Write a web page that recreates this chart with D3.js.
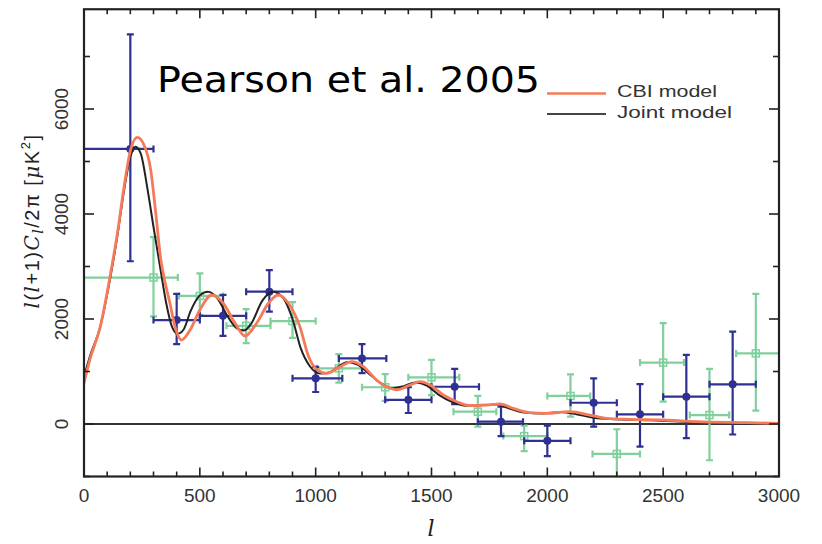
<!DOCTYPE html>
<html>
<head>
<meta charset="utf-8">
<script src="https://cdn.jsdelivr.net/npm/d3@7"></script>
<style>
  body { margin: 0; background: #fff; }
  svg { display: block; }
  .tick-label { font-family: "Liberation Sans", Arial, sans-serif; font-size: 19px; fill: #333; }
</style>
</head>
<body>
<div id="chart"></div>
<script>
// CBI model curve (orange)
const cbiL   = [0, 25, 70, 112, 144, 173, 201, 230, 259, 288, 309, 331, 350, 371, 393, 421, 458, 500, 551, 601, 652, 695, 745, 796, 839, 882, 932, 968, 1004, 1047, 1105, 1156, 1206, 1263, 1321, 1350, 1407, 1450, 1494, 1551, 1609, 1666, 1738, 1796, 1853, 1925, 1997, 2098, 2184, 2256, 2357, 2501, 2645, 2860, 3000]
const cbiV   = [780, 1220, 1850, 2800, 3630, 4520, 5220, 5460, 5315, 4840, 4050, 3150, 2700, 2300, 1850, 1600, 1790, 2170, 2457, 2300, 1920, 1676, 1920, 2300, 2457, 2300, 1854, 1300, 1040, 966, 1092, 1190, 1092, 838, 680, 650, 743, 806, 743, 552, 425, 350, 362, 381, 298, 216, 203, 235, 171, 108, 89, 76, 44, 25, 13]

// Joint model curve (black)
const jointL = [0, 25, 70, 112, 144, 173, 201, 222, 245, 275, 302, 330, 355, 380, 405, 430, 460, 500, 535, 575, 620, 660, 690, 720, 770, 815, 860, 900, 935, 975, 1020, 1060, 1110, 1140, 1180, 1230, 1280, 1330, 1380, 1430, 1480, 1530, 1590, 1650, 1720, 1780, 1840, 1900, 1980, 2060, 2130, 2200, 2300, 2450, 2600, 2800, 3000]
const jointV = [900, 1280, 1850, 2750, 3580, 4450, 5100, 5280, 5150, 4450, 3700, 2950, 2300, 1850, 1720, 1800, 2150, 2450, 2520, 2400, 2050, 1820, 1780, 1900, 2350, 2520, 2400, 2000, 1450, 1100, 960, 980, 1130, 1180, 1130, 960, 780, 680, 720, 790, 730, 560, 420, 350, 360, 370, 290, 220, 200, 230, 180, 120, 90, 70, 45, 25, 12]

// CBI band powers (blue, filled circles)
const blueL   = [200, 400, 600, 800, 1000, 1200, 1400, 1600, 1800, 2000, 2200, 2400, 2600, 2800]
const blueV   = [5240, 1980, 2060, 2520, 870, 1250, 460, 710, 45, -320, 405, 185, 520, 755]
const blueLlo = [-20, 300, 500, 700, 900, 1100, 1300, 1500, 1700, 1900, 2100, 2300, 2500, 2700]
const blueLhi = [300, 500, 700, 900, 1115, 1305, 1500, 1705, 1895, 2100, 2300, 2500, 2700, 2900]
const blueVlo = [3100, 1520, 1680, 2140, 610, 970, 210, 380, -230, -610, -50, -430, -270, -200]
const blueVhi = [7420, 2480, 2460, 2930, 1090, 1520, 700, 1050, 330, -30, 870, 760, 1315, 1760]

// joint band powers (green, open squares)
const greenL   = [300, 500, 700, 900, 1100, 1300, 1500, 1700, 1900, 2100, 2300, 2500, 2700, 2900]
const greenV   = [2790, 2440, 1870, 1960, 1060, 700, 890, 235, -230, 535, -570, 1170, 170, 1345]
const greenLlo = [-20, 410, 615, 805, 1005, 1200, 1400, 1595, 1810, 2000, 2195, 2400, 2615, 2815]
const greenLhi = [405, 600, 805, 1000, 1200, 1400, 1620, 1780, 2000, 2185, 2400, 2590, 2785, 3100]
const greenVlo = [2050, 2080, 1540, 1640, 790, 440, 550, -50, -515, 140, -1100, 425, -690, 255]
const greenVhi = [3560, 2870, 2190, 2320, 1330, 950, 1220, 535, -30, 945, -100, 1920, 1050, 2480]

const xTicks = [0, 500, 1000, 1500, 2000, 2500, 3000]
const yTicks = [0, 2000, 4000, 6000]

const W = 822, H = 544,
      ORANGE = '#f47a5a', BLUE = '#2e3192', GREEN = '#80cf9c'

let svg = d3.select('#chart').append('svg')
      .attr('width', W)
      .attr('height', H),

    x = d3.scaleLinear().domain([0, 3000]).range([84, 779]),
    y = d3.scaleLinear().domain([-1000, 7900]).range([476.5, 9.25]),

    defs = svg.append('defs')

defs.append('clipPath').attr('id', 'plot-clip')
  .append('rect')
    .attr('x', x(0)).attr('y', y(7900))
    .attr('width', x(3000) - x(0)).attr('height', y(-1000) - y(7900))

// zero line
svg.append('line')
  .attr('x1', x(0)).attr('x2', x(3000))
  .attr('y1', y(0)).attr('y2', y(0))
  .attr('stroke', '#333').attr('stroke-width', 1.8)

let plot = svg.append('g').attr('clip-path', 'url(#plot-clip)')

// error bars
function _bars(col, L, V, Llo, Lhi, Vlo, Vhi, square) {
  let g = plot.append('g')
        .attr('stroke', col)
        .attr('fill', 'none')
        .attr('stroke-width', 2.2),
      cap = 3.5,
      pts = g.selectAll('g').data(d3.range(L.length)).join('g')

  pts.append('line')
    .attr('x1', i => x(Llo[i])).attr('x2', i => x(Lhi[i]))
    .attr('y1', i => y(V[i])).attr('y2', i => y(V[i]))
  pts.append('line')
    .attr('x1', i => x(L[i])).attr('x2', i => x(L[i]))
    .attr('y1', i => y(Vlo[i])).attr('y2', i => y(Vhi[i]))
  ;[Llo, Lhi].forEach(A => pts.append('line')
    .attr('x1', i => x(A[i])).attr('x2', i => x(A[i]))
    .attr('y1', i => y(V[i]) - cap).attr('y2', i => y(V[i]) + cap))
  ;[Vlo, Vhi].forEach(A => pts.append('line')
    .attr('x1', i => x(L[i]) - cap).attr('x2', i => x(L[i]) + cap)
    .attr('y1', i => y(A[i])).attr('y2', i => y(A[i])))

  if (square)
    pts.append('rect')
      .attr('x', i => x(L[i]) - 3.5).attr('y', i => y(V[i]) - 3.5)
      .attr('width', 7).attr('height', 7)
      .attr('stroke-width', 1.5)
  else
    pts.append('circle')
      .attr('cx', i => x(L[i])).attr('cy', i => y(V[i]))
      .attr('r', 4)
      .attr('fill', col).attr('stroke', 'none')
}

_bars(GREEN, greenL, greenV, greenLlo, greenLhi, greenVlo, greenVhi, true)
_bars(BLUE, blueL, blueV, blueLlo, blueLhi, blueVlo, blueVhi, false)

// model curves
let λ = d3.line()
  .x(d => x(d[0])).y(d => y(d[1]))
  .curve(d3.curveMonotoneX)

plot.append('path')
  .attr('d', λ(d3.zip(jointL, jointV)))
  .attr('fill', 'none').attr('stroke', '#222').attr('stroke-width', 2)
plot.append('path')
  .attr('d', λ(d3.zip(cbiL, cbiV)))
  .attr('fill', 'none').attr('stroke', ORANGE).attr('stroke-width', 2.8)

// frame + ticks (inward, all four sides)
let ax = svg.append('g').attr('stroke', '#222').attr('stroke-width', 1.6)

d3.range(0, 3001, 100).forEach(v => {
  let len = v % 500 === 0 ? 9 : 5
  ax.append('line').attr('x1', x(v)).attr('x2', x(v)).attr('y1', y(-1000)).attr('y2', y(-1000) - len)
  ax.append('line').attr('x1', x(v)).attr('x2', x(v)).attr('y1', y(7900)).attr('y2', y(7900) + len)
})
d3.range(-1000, 7901, 1000).forEach(v => {
  let len = v % 2000 === 0 ? 10 : 6
  ax.append('line').attr('y1', y(v)).attr('y2', y(v)).attr('x1', x(0)).attr('x2', x(0) + len)
  ax.append('line').attr('y1', y(v)).attr('y2', y(v)).attr('x1', x(3000)).attr('x2', x(3000) - len)
})

svg.append('rect')
  .attr('x', x(0)).attr('y', y(7900))
  .attr('width', x(3000) - x(0)).attr('height', y(-1000) - y(7900))
  .attr('fill', 'none').attr('stroke', '#222').attr('stroke-width', 2.2)

// tick labels
svg.selectAll('.xl').data(xTicks).join('text')
  .attr('class', 'tick-label')
  .attr('x', d => x(d)).attr('y', 502)
  .attr('text-anchor', 'middle')
  .text(d => d)

svg.selectAll('.yl').data(yTicks).join('text')
  .attr('class', 'tick-label')
  .attr('transform', d => 'translate(68,' + y(d) + ') rotate(-90)')
  .attr('text-anchor', 'middle')
  .text(d => d)

// axis titles
svg.append('text')
  .attr('x', 431).attr('y', 536)
  .attr('text-anchor', 'middle')
  .attr('font-family', '"DejaVu Serif", serif')
  .attr('font-style', 'italic')
  .attr('font-size', 22)
  .attr('fill', '#222')
  .text('l')

let yt = svg.append('text')
  .attr('transform', 'translate(39,221) rotate(-90)')
  .attr('text-anchor', 'middle')
  .attr('font-family', '"Liberation Sans", Arial, sans-serif')
  .attr('font-size', 20)
  .attr('letter-spacing', 1.5)
  .attr('fill', '#222')
yt.append('tspan').attr('font-family', '"DejaVu Serif", serif').attr('font-style', 'italic').text('l')
yt.append('tspan').text('(')
yt.append('tspan').attr('font-family', '"DejaVu Serif", serif').attr('font-style', 'italic').text('l')
yt.append('tspan').text('+1)')
yt.append('tspan').attr('font-family', '"DejaVu Serif", serif').attr('font-style', 'italic').text('C')
yt.append('tspan').attr('font-family', '"DejaVu Serif", serif').attr('font-style', 'italic')
  .attr('font-size', 14).attr('dy', 4).text('l')
yt.append('tspan').attr('dy', -4).text('/2π  [')
yt.append('tspan').attr('font-family', '"DejaVu Serif", serif').attr('font-style', 'italic').text('μ')
yt.append('tspan').text('K')
yt.append('tspan').attr('font-size', 13).attr('dy', -9).text('2')
yt.append('tspan').attr('dy', 9).text(']')

// title
svg.append('text')
  .attr('x', 157).attr('y', 92)
  .attr('font-family', '"Comic Sans MS", "DejaVu Sans", sans-serif')
  .attr('font-size', 36)
  .attr('textLength', 383)
  .attr('lengthAdjust', 'spacingAndGlyphs')
  .attr('fill', '#000')
  .text('Pearson et al. 2005')

// legend
let legend = [
  { name: 'CBI model',   col: ORANGE, w: 2.6, y: 93.5,  len: 100 },
  { name: 'Joint model', col: '#444', w: 2,   y: 114,   len: 115 }
]
let lg = svg.selectAll('.lg').data(legend).join('g')
lg.append('line')
  .attr('x1', 547).attr('x2', 606)
  .attr('y1', d => d.y).attr('y2', d => d.y)
  .attr('stroke', d => d.col).attr('stroke-width', d => d.w)
lg.append('text')
  .attr('x', 617).attr('y', d => d.y + 3.5)
  .attr('font-family', '"Liberation Sans", Arial, sans-serif')
  .attr('font-size', 17)
  .attr('fill', '#333')
  .attr('textLength', d => d.len)
  .attr('lengthAdjust', 'spacingAndGlyphs')
  .text(d => d.name)
</script>
</body>
</html>
